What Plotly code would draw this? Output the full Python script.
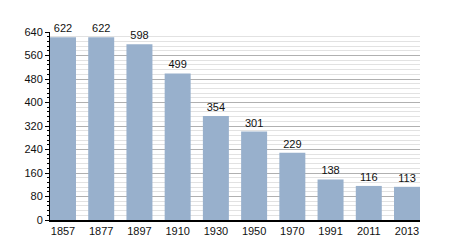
import plotly.graph_objects as go

years = ["1857", "1877", "1897", "1910", "1930", "1950", "1970", "1991", "2011", "2013"]
population = [622, 622, 598, 499, 354, 301, 229, 138, 116, 113]
y_ticks = [0, 80, 160, 240, 320, 400, 480, 560, 640]

fig = go.Figure(go.Bar(
    x=years, y=population,
    marker=dict(color="#98b0cc", line=dict(width=0)),
    text=[str(v) for v in population],
    textposition="outside",
    textfont=dict(size=11, color="#111", family="Liberation Sans, Arial"),
    cliponaxis=False,
))

fig.update_layout(
    width=450, height=250,
    margin=dict(l=50, r=30, t=32, b=30),
    paper_bgcolor="white", plot_bgcolor="white",
    bargap=0.32,
    showlegend=False,
    font=dict(family="Liberation Sans, Arial", size=11, color="#111"),
)
fig.update_xaxes(
    type="category", range=[-0.34, 9.34],
    showline=True, linecolor="black", linewidth=1.5,
    ticks="", showgrid=False, tickfont=dict(size=11),
)
fig.update_yaxes(
    range=[0, 640], tickvals=y_ticks,
    showline=True, linecolor="black", linewidth=1,
    ticks="outside", ticklen=4, tickcolor="black",
    showgrid=True, gridcolor="#b0b0b0", gridwidth=1,
    minor=dict(dtick=16, showgrid=True, gridcolor="#e2e2e2", ticks="outside", ticklen=2, tickcolor="black"),
    zeroline=False, tickfont=dict(size=11),
)
fig.write_html("out.html")
